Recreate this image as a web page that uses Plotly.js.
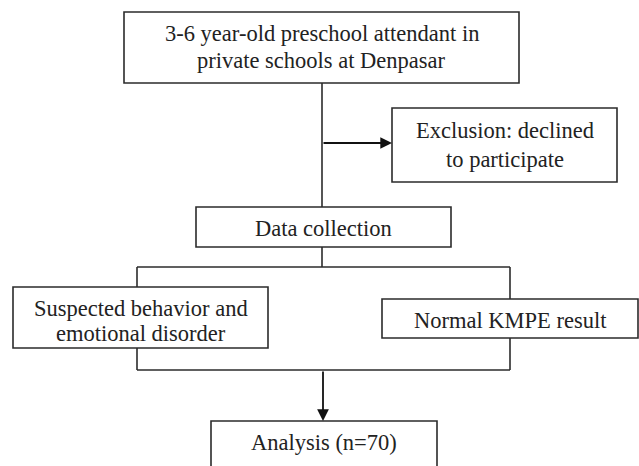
<!DOCTYPE html>
<html>
<head>
<meta charset="utf-8">
<script src="https://cdn.plot.ly/plotly-3.0.1.min.js"></script>
<style>html,body{margin:0;padding:0;background:#fff;}#chart{width:639px;height:466px;}</style>
</head>
<body>
<div id="chart"></div>
<script>
// Flowchart node labels (one entry per text line)
const populationLabel = ["3-6 year-old preschool attendant in", "private schools at Denpasar"];
const exclusionLabel  = ["Exclusion: declined", "to participate"];
const collectionLabel = ["Data collection"];
const suspectedLabel  = ["Suspected behavior and", "emotional disorder"];
const normalLabel     = ["Normal KMPE result"];
const analysisLabel   = ["Analysis (n=70)"];

// Layout geometry (pixel coordinates, y downward)
const nodes = [
  {label: populationLabel, x0: 124, x1: 519, y0: 12,  y1: 83,  lines: [33, 60]},
  {label: exclusionLabel,  x0: 392, x1: 617, y0: 108, y1: 182, lines: [130, 159]},
  {label: collectionLabel, x0: 196, x1: 451, y0: 207, y1: 247, lines: [228]},
  {label: suspectedLabel,  x0: 13,  x1: 268, y0: 287, y1: 348, lines: [308, 333]},
  {label: normalLabel,     x0: 382, x1: 638, y0: 299, y1: 338, lines: [320]},
  {label: analysisLabel,   x0: 211, x1: 437, y0: 421, y1: 490, lines: [442]}
];
const connectors = [
  [322, 83, 322, 207],
  [322, 247, 322, 267],
  [137, 267, 510, 267],
  [137, 267, 137, 287],
  [510, 267, 510, 299],
  [137, 348, 137, 370],
  [510, 338, 510, 370],
  [137, 370, 510, 370]
];
const arrows = [
  {from: [322, 143], to: [392, 143]},
  {from: [323, 370], to: [323, 421]}
];

const lineColor = "#2b2b2b";
const shapes = [];
const annotations = [];
nodes.forEach(n => {
  shapes.push({type: "rect", xref: "x", yref: "y", x0: n.x0, x1: n.x1, y0: n.y0, y1: n.y1,
    line: {color: lineColor, width: 1.6}, fillcolor: "rgba(0,0,0,0)"});
  n.label.forEach((t, k) => {
    annotations.push({x: (n.x0 + n.x1) / 2, y: n.lines[k], xref: "x", yref: "y", text: t,
      showarrow: false, xanchor: "center", yanchor: "middle", align: "center",
      font: {family: "Liberation Serif, Times New Roman, serif", size: 22.5, color: "#222"}});
  });
});
connectors.forEach(c => {
  shapes.push({type: "line", xref: "x", yref: "y", x0: c[0], y0: c[1], x1: c[2], y1: c[3],
    line: {color: lineColor, width: 1.6}});
});
arrows.forEach(a => {
  annotations.push({x: a.to[0], y: a.to[1], ax: a.from[0], ay: a.from[1], xref: "x", yref: "y",
    axref: "x", ayref: "y", text: "", showarrow: true, arrowhead: 2, arrowsize: 1.3,
    arrowwidth: 1.8, arrowcolor: "#111", standoff: 0});
});

Plotly.newPlot("chart", [], {
  width: 639, height: 466,
  margin: {l: 0, r: 0, t: 0, b: 0},
  paper_bgcolor: "#fff", plot_bgcolor: "#fff",
  xaxis: {range: [0, 639], visible: false, fixedrange: true},
  yaxis: {range: [466, 0], visible: false, fixedrange: true},
  shapes: shapes, annotations: annotations, showlegend: false
}, {displayModeBar: false, staticPlot: true});
</script>
</body>
</html>
